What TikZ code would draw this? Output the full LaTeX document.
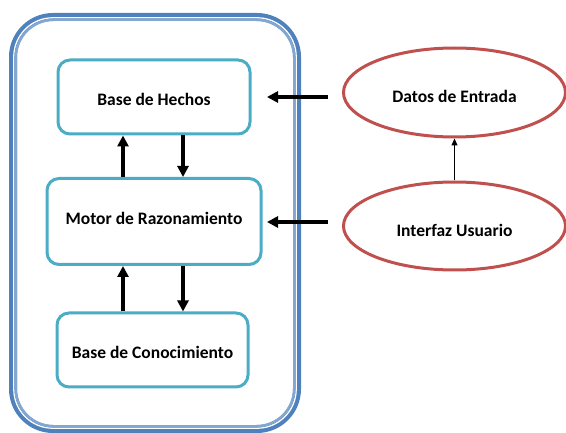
\documentclass[tikz,border=0pt]{standalone}
\usepackage{fontspec}
\setmainfont{Carlito}
\usetikzlibrary{shapes.geometric,arrows.meta}
\definecolor{frameblue}{HTML}{4F81BD}
\definecolor{boxteal}{HTML}{4BACC6}
\definecolor{ellred}{HTML}{C0504D}
\tikzset{
  lbl/.style={font=\fontsize{17.5}{20}\selectfont\bfseries, text=black},
  lower/.style={text height=#1, text depth=1pt},
  module/.style={draw=boxteal, line width=3pt, rounded corners=12pt, fill=white, lbl, lower=18pt},
  source/.style={ellipse, draw=ellred, line width=3pt, fill=white, lbl, inner sep=0pt, lower=22pt},
  flow/.style={line width=3.6pt, -{Triangle[length=11pt,width=11pt]}},
  thin/.style={line width=1.1pt, -{Triangle[length=7pt,width=6pt]}},
}
\begin{document}
\begin{tikzpicture}[x=1pt,y=-1pt]
\useasboundingbox (0,0) rectangle (566,433);
% outer container with a double border
\draw[frameblue, line width=8pt, rounded corners=40pt] (13,17) rectangle (297,429);
\draw[white, line width=1.3pt, rounded corners=39pt] (13.8,17.8) rectangle (296.2,428.2);
\draw[frameblue!70, line width=2.6pt, rounded corners=38pt] (15.7,19.7) rectangle (294.3,426.3);

% inner modules
\node[module, minimum width=192pt, minimum height=74pt] (hechos) at (154,97) {Base de Hechos};
\node[module, minimum width=214pt, minimum height=86pt, text height=10pt, text depth=4pt] (motor) at (154,221.5) {Motor de Razonamiento};
\node[module, minimum width=191pt, minimum height=74pt] (conoc) at (152.5,350) {Base de Conocimiento};

% external sources
\node[source, minimum width=222pt, minimum height=89pt] (datos) at (454.5,92.5) {Datos de Entrada};
\node[source, minimum width=222pt, minimum height=88pt] (interfaz) at (454.5,226) {Interfaz Usuario};

% vertical exchanges between modules
\draw[flow] (motor.north -| 123,0) -- (hechos.south -| 123,0);
\draw[flow] (hechos.south -| 183,0) -- (motor.north -| 183,0);
\draw[flow] (conoc.north -| 123,0) -- (motor.south -| 123,0);
\draw[flow] (motor.south -| 183,0) -- (conoc.north -| 183,0);

% inputs from the sources
\coordinate (inA) at (328,97);
\coordinate (outA) at (267,97);
\coordinate (inB) at (328,222);
\coordinate (outB) at (267,222);
\draw[flow] (inA) -- (outA);
\draw[flow] (inB) -- (outB);
\draw[thin] (interfaz.north) -- (datos.south);
\end{tikzpicture}
\end{document}
